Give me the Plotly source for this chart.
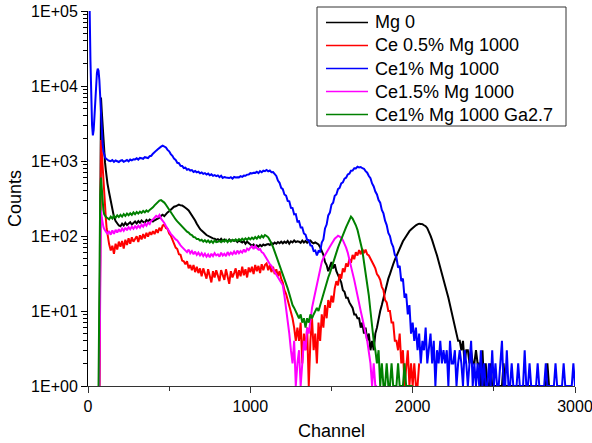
import plotly.graph_objects as go

# Channel grid: fine steps for the sharp low-channel region, then every 10 channels
head_ch = list(range(0, 120, 5))          # 24 points
main_ch = list(range(120, 3001, 10))      # 289 points

names = ["Mg 0", "Ce 0.5% Mg 1000", "Ce1% Mg 1000", "Ce1.5% Mg 1000", "Ce1% Mg 1000 Ga2.7"]
colors = ["#000000", "#FF0000", "#0000FF", "#FF00FF", "#008000"]

N = None

# ---------------- Mg 0 (black) ----------------
black_head = [N]*14 + [1, 3500, 7000, 4500, 2800, 1900, 1300, 950, 750, 600]
black_main = [
    500, 380, 290, 225, 180, 158, 145, 138,
    135, 146, 138, 150, 140, 148, 153, 142, 151, 156,
    147, 158, 150, 161, 154, 150, 163, 157, 166, 160,
    156, 162, 166, 172, 176, 186, 192, 184, 196, 206,
    214, 226, 233, 246, 249, 257, 262, 256, 255, 247,
    240, 229, 219, 204, 191, 174, 161, 146, 133, 124,
    118, 111, 108, 103, 100, 97, 96, 93, 92, 89,
    91, 87, 92, 86, 90, 87, 85, 90, 86, 88,
    86, 88, 83, 87, 84, 82, 86, 79, 84, 81,
    78, 74, 77, 71, 75, 72, 76, 73, 77, 75,
    77, 78, 76, 81, 78, 82, 79, 83, 80, 84,
    80, 84, 81, 86, 79, 85, 82, 87, 83, 85,
    84, 81, 87, 82, 86, 81, 85, 87, 82, 80,
    82, 79, 77, 71, 64, 56, 45, 41, 34, 40,
    45, 37, 42, 34, 30, 26, 24, 19, 18, 15,
    15, 13, 12, 11, 9, 9, 8, 8, 6, 7,
    5, 6, 4, 5, 3, 4, 3, 5, 6, 8,
    10, 12, 15, 18, 22, 27, 31, 37, 42, 48,
    54, 61, 68, 76, 85, 92, 101, 108, 116, 122,
    128, 134, 139, 143, 146, 145, 144, 139, 135, 127,
    116, 101, 88, 77, 64, 55, 46, 39, 33, 28,
    22, 18, 15, 12, 10, 8, 6, 5, 4, 4,
    3, 4, 2, 3, 3, 2, 3, 2, 2, 3,
    2, 2, 1, 3, 1, 2, 1, 1, 2, 1,
    1, 1, 1, 1, 1, 1, 2, 1, 1, 1,
    1, 1, 1, 1, 1, 1, 1, 1, 1, 1,
    1, 1, 1, 1, 1, 1, 1, 1, 1, 1,
    1, 1, 1, 2, 1,
]

# ---------------- Ce 0.5% Mg 1000 (red) ----------------
red_head = [N]*14 + [1, 900, 1900, 1300, 800, 500, 330, 230, 170, 125]
red_main = [
    100, 78, 64, 74, 58, 79, 66, 84,
    72, 86, 68, 89, 76, 93, 79, 96, 84, 91,
    99, 83, 102, 90, 106, 93, 110, 98, 113, 104,
    116, 106, 122, 110, 129, 117, 138, 142, 128, 124,
    108, 101, 90, 81, 70, 67, 57, 56, 47, 46,
    42, 46, 37, 41, 35, 41, 33, 39, 32, 37,
    29, 37, 31, 27, 36, 29, 24, 34, 28, 35,
    30, 25, 35, 31, 26, 36, 29, 23, 34, 28,
    32, 37, 27, 35, 29, 39, 30, 36, 28, 38,
    33, 39, 31, 41, 34, 40, 32, 42, 35, 41,
    43, 35, 41, 33, 39, 31, 36, 29, 34, 27,
    24, 19, 17, 14, 12, 9, 8, 6, 4, 6,
    4, 7, 2, 5, 3, 6, 1, 4, 8, 3,
    5, 2, 7, 4, 9, 6, 12, 8, 14, 11,
    16, 13, 20, 25, 22, 31, 27, 37, 33, 43,
    39, 49, 44, 56, 49, 61, 55, 65, 57, 67,
    59, 66, 57, 55, 49, 46, 41, 37, 31, 29,
    26, 21, 19, 14, 13, 10, 10, 7, 7, 4,
    4, 3, 5, 2, 3, 1, 2, 3, 1, 2,
    1, 2, 1, 1, 2,
]

# ---------------- Ce1% Mg 1000 (blue) ----------------
blue_head = [300000, 200000, 110000, 22000, 6000, 3000, 2200, 2600, 4000, 6500,
             10500, 15000, 17000, 16000, 12000, 7000, 4000, 2600, 1700, 1350,
             1200, 1120, 1080, 1050]
blue_main = [
    1040, 1005, 995, 1030, 975, 1015, 1000, 970,
    1010, 1025, 975, 1015, 1030, 990, 1045, 1020, 1055, 1050,
    1085, 1045, 1100, 1090, 1070, 1125, 1110, 1095, 1160, 1175,
    1250, 1295, 1375, 1435, 1515, 1555, 1600, 1545, 1515, 1405,
    1345, 1235, 1175, 1075, 1035, 945, 935, 865, 860, 805,
    815, 765, 780, 745, 755, 715, 735, 705, 720, 685,
    705, 675, 690, 660, 680, 645, 665, 635, 650, 628,
    642, 608, 635, 595, 612, 602, 600, 593, 608, 582,
    613, 602, 608, 605, 628, 615, 638, 635, 658, 662,
    688, 682, 698, 695, 718, 688, 732, 708, 742, 732,
    758, 728, 746, 708, 712, 658, 632, 548, 512, 438,
    422, 358, 346, 294, 290, 238, 236, 194, 196, 156,
    158, 130, 130, 108, 104, 89, 88, 75, 74, 63,
    64, 55, 63, 62, 82, 90, 126, 142, 188, 205,
    262, 278, 343, 358, 422, 438, 502, 518, 582, 598,
    662, 678, 742, 748, 802, 798, 838, 822, 832, 802,
    788, 732, 698, 632, 588, 502, 458, 392, 358, 302,
    278, 222, 200, 160, 140, 110, 100, 80, 72, 56,
    52, 38, 40, 25, 27, 15, 17, 9, 12, 5,
    7, 4, 6, 3, 5, 2, 4, 3, 6, 2,
    3, 5, 2, 4, 1, 3, 2, 4, 2, 3,
    2, 3, 1, 4, 2, 2, 3, 1, 2, 3,
    2, 1, 3, 2, 1, 2, 4, 1, 2, 1,
    2, 1, 3, 1, 2, 1, 1, 2, 1, 3,
    1, 2, 1, 1, 2, 4, 1, 1, 3, 1,
    1, 2, 1, 1, 1, 2, 1, 1, 1, 3,
    1, 1, 2, 1, 1, 1, 1, 2, 1, 1,
    1, 1, 2, 1, 1, 1, 1, 1, 2, 1,
    1, 1, 1, 2, 1, 1, 1, 1, 1, 2,
    1,
]

# ---------------- Ce1.5% Mg 1000 (magenta) ----------------
magenta_head = [N]*14 + [1, 130, 220, 175, 148, 132, 124, 118, 114, 110]
magenta_main = [
    108, 116, 104, 119, 107, 121, 111, 123,
    114, 126, 117, 129, 119, 131, 123, 133, 125, 135,
    127, 137, 129, 141, 133, 146, 137, 151, 144, 160,
    166, 176, 186, 179, 191, 170, 161, 149, 136, 124,
    116, 107, 101, 94, 90, 87, 80, 75, 71, 67,
    65, 61, 66, 59, 63, 57, 62, 56, 60, 55,
    59, 54, 58, 53, 57, 52, 58, 54, 59, 55,
    57, 53, 60, 55, 58, 54, 61, 56, 60, 57,
    62, 57, 64, 59, 63, 60, 66, 61, 68, 65,
    70, 73, 67, 74, 69, 66, 67, 61, 59, 55,
    50, 46, 42, 40, 36, 33, 30, 28, 26, 24,
    22, 16, 11, 7, 5, 3, 2, 4, 1, 2,
    3, 1, 2, 4, 3, 6, 5, 8, 11, 14,
    18, 22, 30, 38, 45, 51, 56, 62, 66, 72,
    78, 85, 92, 96, 101, 98, 95, 88, 80, 70,
    60, 50, 40, 32, 26, 20, 16, 13, 10, 8,
    6, 5, 4, 3, 2, 1, 2, 1, 1,
]

# ---------------- Ce1% Mg 1000 Ga2.7 (green) ----------------
green_head = [N]*13 + [1, 150, 350, 600, 400, 280, 220, 195, 185, 180, 176]
green_main = [
    174, 167, 181, 171, 186, 175, 189, 179,
    191, 181, 196, 185, 199, 189, 201, 191, 206, 195,
    209, 199, 211, 203, 216, 207, 219, 211, 223, 231,
    241, 256, 271, 286, 296, 301, 291, 279, 261, 241,
    226, 204, 191, 174, 166, 157, 149, 139, 133, 124,
    121, 114, 111, 105, 103, 97, 96, 91, 91, 87,
    89, 84, 88, 83, 87, 82, 86, 81, 87, 83,
    84, 86, 83, 88, 84, 89, 83, 88, 84, 89,
    86, 90, 86, 91, 87, 92, 88, 93, 89, 94,
    90, 95, 91, 97, 92, 99, 94, 101, 96, 103,
    100, 96, 88, 80, 71, 62, 54, 47, 41, 36,
    32, 27, 23, 20, 17, 14, 12, 11, 10, 9,
    8, 9, 7, 8, 6, 8, 7, 9, 8, 9,
    10, 11, 10, 12, 14, 17, 20, 24, 28, 32,
    38, 45, 52, 60, 70, 80, 92, 105, 118, 131,
    146, 166, 181, 171, 156, 139, 121, 99, 81, 64,
    45, 32, 24, 16, 10, 6, 4, 3, 2, 3,
    1, 2, 1, 1, 2, 1, 1, 2, 1, 1,
    1, 2, 1, 1, 1, 2, 1, 1, 1, 1,
    1,
]

series = [
    (black_head, black_main),
    (red_head, red_main),
    (blue_head, blue_main),
    (magenta_head, magenta_main),
    (green_head, green_main),
]

x_ticks = [0, 1000, 2000, 3000]
x_minor = [500, 1500, 2500]
y_ticks = [1, 10, 100, 1000, 10000, 100000]
y_ticktext = ["1E+00", "1E+01", "1E+02", "1E+03", "1E+04", "1E+05"]
y_minor = [m * 10**d for d in range(0, 5) for m in range(2, 10)]

W, H = 592, 443
ML, MR, MT, MB = 88, 17, 11, 57
PW, PH = W - ML - MR, H - MT - MB

def px(x):
    return (x - ML) / PW

def py(y):
    return (H - MB - y) / PH

fig = go.Figure()
for (head, main), name, color in zip(series, names, colors):
    xs = head_ch + main_ch[:len(main)]
    ys = head + main
    fig.add_trace(go.Scatter(x=xs, y=ys, mode="lines", name=name,
                             line=dict(color=color, width=2),
                             connectgaps=False, showlegend=False))

font = "Arial, Liberation Sans, sans-serif"

# Legend box drawn in paper coordinates
shapes = [dict(type="rect", xref="paper", yref="paper",
               x0=px(317), x1=px(566), y0=py(126), y1=py(7),
               line=dict(color="#333", width=1), fillcolor="white", layer="above")]
annotations = []
row_y = [22.5, 45.5, 68.5, 91.5, 114.5]
for name, color, ry in zip(names, colors, row_y):
    shapes.append(dict(type="line", xref="paper", yref="paper",
                       x0=px(326), x1=px(368), y0=py(ry), y1=py(ry),
                       line=dict(color=color, width=1.3), layer="above"))
    annotations.append(dict(text=name, xref="paper", yref="paper",
                            x=px(373), y=py(ry), xanchor="left", yanchor="middle",
                            showarrow=False,
                            font=dict(family=font, size=18, color="black")))

fig.update_layout(
    width=W, height=H,
    margin=dict(l=ML, r=MR, t=MT, b=MB, autoexpand=False),
    paper_bgcolor="white", plot_bgcolor="white",
    font=dict(family=font, size=16, color="black"),
    showlegend=False,
    shapes=shapes,
    annotations=annotations,
    xaxis=dict(range=[0, 3000], tickvals=x_ticks, ticktext=[str(v) for v in x_ticks],
               automargin=False, ticklabeloverflow="allow",
               ticks="outside", ticklen=6, tickwidth=1, tickcolor="#333",
               showline=True, linecolor="#333", linewidth=1,
               showgrid=False, zeroline=False,
               minor=dict(tickvals=x_minor, ticks="outside", ticklen=4, tickcolor="#333"),
               tickfont=dict(size=16),
               title=dict(text="Channel", font=dict(size=18), standoff=10)),
    yaxis=dict(type="log", range=[0, 5], tickvals=y_ticks, ticktext=y_ticktext,
               automargin=False, ticklabeloverflow="allow",
               ticks="outside", ticklen=6, tickwidth=1, tickcolor="black",
               showline=True, linecolor="black", linewidth=1,
               showgrid=False, zeroline=False,
               minor=dict(tickvals=y_minor, ticks="outside", ticklen=4, tickcolor="black"),
               tickfont=dict(size=16),
               title=dict(text="Counts", font=dict(size=18), standoff=4)),
)

fig.write_html("out.html")
